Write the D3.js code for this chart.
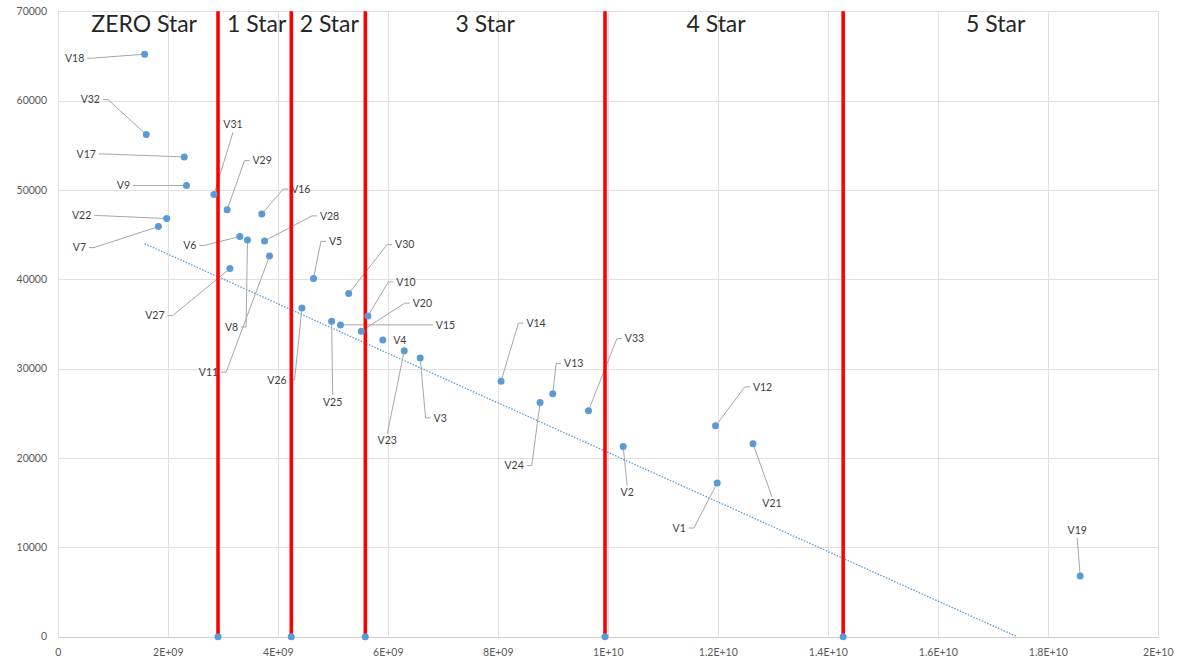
<!DOCTYPE html>
<html>
<head>
<meta charset="utf-8">
<script src="https://cdn.jsdelivr.net/npm/d3@7"></script>
<style>
  body { margin: 0; background: #fff; }
  svg { display: block; font-family: Lato, "Open Sans", sans-serif; }
</style>
</head>
<body>
<div id="chart"></div>
<script>
// ---- data ----
var names = ["V1","V2","V3","V4","V5","V6","V7","V8","V9","V10","V11",
             "V12","V13","V14","V15","V16","V17","V18","V19","V20","V21","V22",
             "V23","V24","V25","V26","V27","V28","V29","V30","V31","V32","V33"];
var xValues = [11.98e9, 10.27e9, 6.58e9, 5.90e9, 4.64e9, 3.30e9, 1.82e9, 3.44e9, 2.33e9, 5.63e9, 3.84e9,
               11.95e9, 8.99e9, 8.05e9, 5.13e9, 3.70e9, 2.29e9, 1.57e9, 18.58e9, 5.51e9, 12.63e9, 1.97e9,
               6.29e9, 8.76e9, 4.97e9, 4.43e9, 3.12e9, 3.75e9, 3.07e9, 5.28e9, 2.83e9, 1.60e9, 9.64e9];
var yValues = [17200, 21300, 31200, 33200, 40100, 44800, 45900, 44400, 50500, 35900, 42600,
               23600, 27200, 28600, 34900, 47300, 53700, 65200, 6800, 34200, 21600, 46800,
               32000, 26200, 35300, 36800, 41200, 44300, 47800, 38400, 49500, 56200, 25300];

// star band boundaries (red lines), each with a marker at y = 0
var starNames = ["ZERO Star", "1 Star", "2 Star", "3 Star", "4 Star", "5 Star"];
var starBounds = [2.904e9, 4.236e9, 5.582e9, 9.94e9, 14.27e9];

// linear trendline: [intercept, slope]
var trendLine = [48340, -2.773e-6];

var xTicks = [0, 2e9, 4e9, 6e9, 8e9, 1e10, 1.2e10, 1.4e10, 1.6e10, 1.8e10, 2e10];
var yTicks = [0, 10000, 20000, 30000, 40000, 50000, 60000, 70000];

// ---- layout: label offsets from each point (px) and leader side ----
var labelLayout = {
  V1:[-38,45,"r"], V2:[4,46,"t"], V3:[20,60,"l"], V4:[17,0,"n"], V5:[22,-37,"l"],
  V6:[-50,9,"r"], V7:[-79,21,"r"], V8:[-16,87,"r"], V9:[-63,0,"r"], V10:[38,-34,"l"],
  V11:[-61,116,"r"], V12:[47,-39,"l"], V13:[21,-30,"l"], V14:[35,-58,"l"], V15:[105,0,"l"],
  V16:[39,-25,"l"], V17:[-98,-3,"r"], V18:[-70,4,"r"], V19:[-3,-46,"b"], V20:[61,-28,"l"],
  V21:[19,60,"t"], V22:[-85,-3,"r"], V23:[-17,90,"t"], V24:[-26,63,"r"], V25:[1,81,"t"],
  V26:[-25,72,"r"], V27:[-75,47,"r"], V28:[65,-25,"l"], V29:[35,-49,"l"], V30:[56,-49,"l"],
  V31:[19,-70,"b"], V32:[-56,-35,"r"], V33:[46,-72,"l"]
};
var starDx = [6, 2, 1, 0, -8, -5];

var width = 1178, height = 660;
var svg = d3.select("#chart").append("svg")
    .attr("width", width)
    .attr("height", height);

var x = d3.scaleLinear().domain([0, 2e10]).range([58.3, 1158.3]);
var y = d3.scaleLinear().domain([0, 70000]).range([636.7, 11.3]);

function sci(v) {
  if (v === 0) return "0";
  var e = Math.floor(Math.log10(v) + 1e-9);
  var m = +(v / Math.pow(10, e)).toFixed(2);
  return m + "E+" + (e < 10 ? "0" + e : e);
}

// gridlines
svg.append("g").selectAll("line").data(yTicks).enter().append("line")
    .attr("x1", x(0)).attr("x2", x(2e10))
    .attr("y1", function(d) { return Math.round(y(d)) + 0.5; })
    .attr("y2", function(d) { return Math.round(y(d)) + 0.5; })
    .attr("stroke", function(d) { return d === 0 ? "#cfcfcf" : "#e0e0e0"; })
    .attr("stroke-width", 1);
svg.append("g").selectAll("line").data(xTicks).enter().append("line")
    .attr("x1", function(d) { return Math.round(x(d)) + 0.5; })
    .attr("x2", function(d) { return Math.round(x(d)) + 0.5; })
    .attr("y1", y(0)).attr("y2", y(70000))
    .attr("stroke", "#e0e0e0")
    .attr("stroke-width", 1);

// tick labels
svg.append("g").selectAll("text").data(yTicks).enter().append("text")
    .attr("x", 47).attr("y", function(d) { return y(d); })
    .attr("dy", "0.35em")
    .attr("text-anchor", "end")
    .attr("font-size", "10.5px")
    .attr("fill", "#595959")
    .text(function(d) { return d; });
svg.append("g").selectAll("text").data(xTicks).enter().append("text")
    .attr("x", function(d) { return x(d); }).attr("y", 656)
    .attr("text-anchor", "middle")
    .attr("font-size", "10.5px")
    .attr("fill", "#595959")
    .text(sci);

// trendline, clipped at y = 0
var tx0 = d3.min(xValues);
var tx1 = Math.min(d3.max(xValues), -trendLine[0] / trendLine[1]);
svg.append("line")
    .attr("x1", x(tx0)).attr("y1", y(trendLine[0] + trendLine[1] * tx0))
    .attr("x2", x(tx1)).attr("y2", y(trendLine[0] + trendLine[1] * tx1))
    .attr("stroke", "#5b9bd5")
    .attr("stroke-width", 1.3)
    .attr("stroke-dasharray", "1.5,1.5");

var points = names.map(function(n, i) { return {name: n, x: xValues[i], y: yValues[i]}; });

// data labels + leader lines
var lab = svg.append("g");
var leaders = svg.append("g");
points.forEach(function(p) {
  var L = labelLayout[p.name];
  var px = x(p.x), py = y(p.y);
  var lx = px + L[0], ly = py + L[1];
  var t = lab.append("text")
      .attr("x", lx).attr("y", ly)
      .attr("dy", "0.35em")
      .attr("text-anchor", "middle")
      .attr("font-size", "10.5px")
      .attr("fill", "#404040")
      .text(p.name);
  var w = t.node().getComputedTextLength();
  var pts = null;
  if (L[2] === "l") {
    var ax = lx - w / 2 - 3;
    pts = [[ax, ly], [ax - 5, ly], [px, py]];
  } else if (L[2] === "r") {
    var bx = lx + w / 2 + 3;
    pts = [[bx, ly], [bx + 5, ly], [px, py]];
  } else if (L[2] === "t") {
    pts = [[lx, ly - 7], [px, py]];
  } else if (L[2] === "b") {
    pts = [[lx, ly + 8], [px, py]];
  }
  if (pts) {
    leaders.append("path")
        .attr("d", d3.line()(pts))
        .attr("fill", "none")
        .attr("stroke", "#a6a6a6")
        .attr("stroke-width", 1);
  }
});

// red band boundaries
svg.append("g").selectAll("line").data(starBounds).enter().append("line")
    .attr("x1", function(d) { return x(d); })
    .attr("x2", function(d) { return x(d); })
    .attr("y1", y(0)).attr("y2", y(70000))
    .attr("stroke", "#ff0000")
    .attr("stroke-width", 3.6);

// band titles
var edges = [0].concat(starBounds, [2e10]);
svg.append("g").selectAll("text").data(starNames).enter().append("text")
    .attr("x", function(d, i) { return (x(edges[i]) + x(edges[i + 1])) / 2 + starDx[i]; })
    .attr("y", 31.5)
    .attr("text-anchor", "middle")
    .attr("font-size", "23px")
    .attr("fill", "#262626")
    .text(function(d) { return d; });

// markers
svg.append("g").selectAll("circle").data(points.concat(starBounds.map(function(b) { return {x: b, y: 0}; })))
  .enter().append("circle")
    .attr("cx", function(d) { return x(d.x); })
    .attr("cy", function(d) { return y(d.y); })
    .attr("r", 3.5)
    .attr("fill", "#5b9bd5");
</script>
</body>
</html>
